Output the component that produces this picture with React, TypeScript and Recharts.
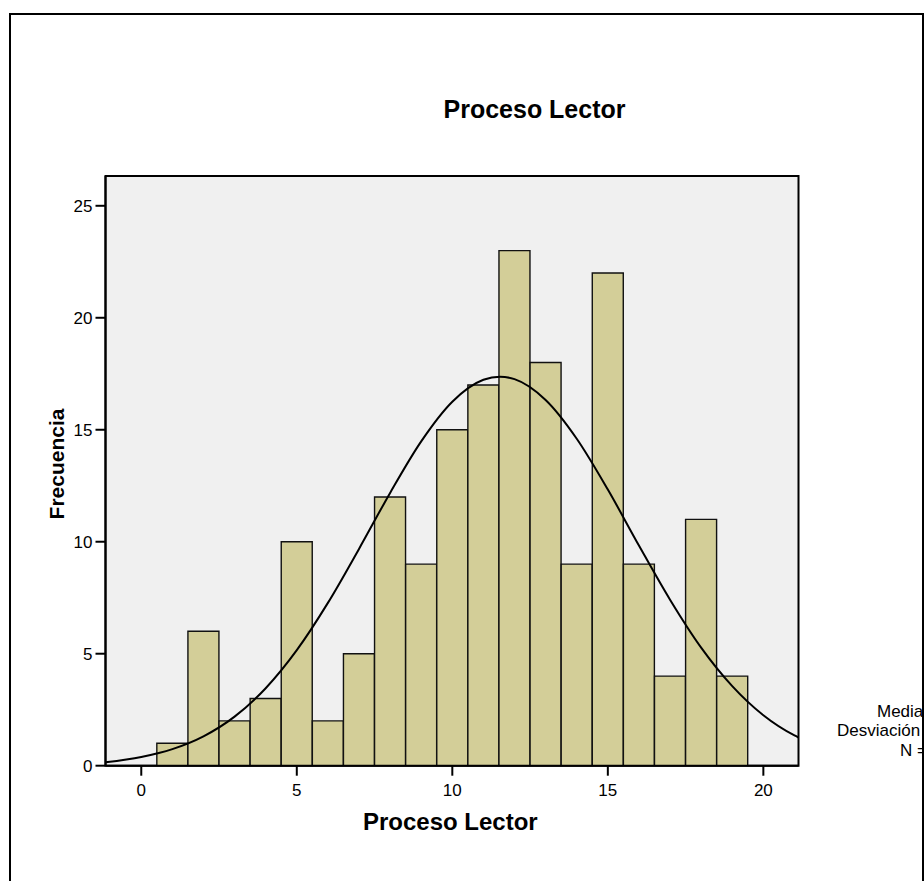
import { Bar, CartesianGrid, ComposedChart, Line, ReferenceArea, XAxis, YAxis } from "recharts";

// Histograma "Proceso Lector" (salida tipo SPSS) con curva normal ajustada.
const valores = [1, 2, 3, 4, 5, 6, 7, 8, 9, 10, 11, 12, 13, 14, 15, 16, 17, 18, 19];
const frecuencias = [1, 6, 2, 3, 10, 2, 5, 12, 9, 15, 17, 23, 18, 9, 22, 9, 4, 11, 4];

// puntos leidos sobre la curva normal del grafico
const curvaX = [-1.15, 0, 1, 2, 3, 4, 5, 6, 7, 8, 9, 10, 11, 11.53, 12, 13, 14, 15, 16, 17, 18, 19, 20, 21, 21.13];
const curvaY = [0.15, 0.39, 0.74, 1.31, 2.19, 3.46, 5.16, 7.27, 9.68, 12.18, 14.48, 16.25, 17.23, 17.37, 17.26, 16.33, 14.6, 12.33, 9.83, 7.41, 5.27, 3.55, 2.25, 1.35, 1.26];

const ticksX = [0, 5, 10, 15, 20];
const ticksY = [0, 5, 10, 15, 20, 25];
const dominioX: [number, number] = [-1.15, 21.13];
const dominioY: [number, number] = [0, 26.33];

const leyenda = ["Media =11,53", "Desviación típica =4,186", "N =182"];

const FUENTE = "'Liberation Sans', Arial, sans-serif";
// origen del contenido del recuadro (borde de 2px en 9,13)
const OX = 11;
const OY = 15;

const barras = valores.map((v, i) => ({ x: v, frecuencia: frecuencias[i] }));
const curva = curvaX.map((x, i) => ({ x, normal: curvaY[i] }));

const leyendaPos = [
  { left: 877, top: 703 },
  { left: 837, top: 722 },
  { left: 900, top: 742 },
];

export default function App() {
  return (
    <div
      style={{
        position: "absolute",
        left: 9,
        top: 13,
        width: 915,
        height: 900,
        border: "2px solid #000",
        boxSizing: "border-box",
        overflow: "hidden",
        background: "#fff",
        fontFamily: FUENTE,
      }}
    >
      <div
        style={{
          position: "absolute",
          left: 534.5 - OX,
          top: 97 - OY,
          transform: "translateX(-50%)",
          fontSize: 25,
          lineHeight: "25px",
          fontWeight: "bold",
          whiteSpace: "nowrap",
        }}
      >
        Proceso Lector
      </div>

      <div style={{ position: "absolute", left: 0, top: 0 }}>
        <ComposedChart
          width={911}
          height={866}
          data={barras}
          margin={{ top: 161, right: 123.5, bottom: 85.3, left: 54.5 }}
        >
          <CartesianGrid horizontal={false} vertical={false} fill="#f0f0f0" />
          <XAxis
            dataKey="x"
            type="number"
            domain={dominioX}
            ticks={ticksX}
            allowDataOverflow
            height={30}
            stroke="#000"
            strokeWidth={2}
            tickSize={10}
            tickMargin={8}
            tick={{ fill: "#000", fontSize: 17, fontFamily: FUENTE }}
          />
          {/* eje oculto solo para la curva, asi no altera el ancho de las barras */}
          <XAxis xAxisId="curva" dataKey="x" type="number" domain={dominioX} allowDataOverflow hide />
          <YAxis
            type="number"
            domain={dominioY}
            ticks={ticksY}
            allowDataOverflow
            width={40}
            stroke="#000"
            strokeWidth={2}
            tickSize={10}
            tickMargin={3}
            tick={{ fill: "#000", fontSize: 17, fontFamily: FUENTE }}
          />
          <Bar
            dataKey="frecuencia"
            barSize={31}
            fill="#d3ce98"
            stroke="#111"
            strokeWidth={1.4}
            isAnimationActive={false}
          />
          <Line
            xAxisId="curva"
            data={curva}
            dataKey="normal"
            type="monotone"
            stroke="#000"
            strokeWidth={2}
            dot={false}
            activeDot={false}
            isAnimationActive={false}
          />
          <ReferenceArea
            x1={dominioX[0]}
            x2={dominioX[1]}
            y1={dominioY[0]}
            y2={dominioY[1]}
            fill="none"
            stroke="#000"
            strokeWidth={2}
          />
        </ComposedChart>
      </div>

      <div
        style={{
          position: "absolute",
          left: 56 - OX,
          top: 464 - OY,
          transform: "translate(-50%, -50%) rotate(-90deg)",
          fontSize: 21,
          lineHeight: "21px",
          fontWeight: "bold",
          whiteSpace: "nowrap",
        }}
      >
        Frecuencia
      </div>

      <div
        style={{
          position: "absolute",
          left: 450.3 - OX,
          top: 810 - OY,
          transform: "translateX(-50%)",
          fontSize: 24,
          lineHeight: "24px",
          fontWeight: "bold",
          whiteSpace: "nowrap",
        }}
      >
        Proceso Lector
      </div>

      {leyenda.map((t, i) => (
        <div
          key={t}
          style={{
            position: "absolute",
            left: leyendaPos[i].left - OX,
            top: leyendaPos[i].top - OY,
            fontSize: 17,
            lineHeight: "17px",
            whiteSpace: "nowrap",
          }}
        >
          {t}
        </div>
      ))}
    </div>
  );
}
